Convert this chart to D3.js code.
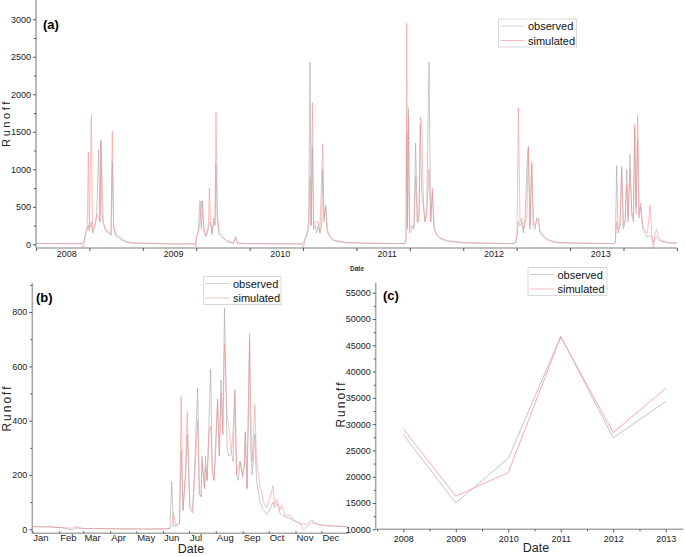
<!DOCTYPE html>
<html>
<head>
<meta charset="utf-8">
<script src="https://cdn.jsdelivr.net/npm/d3@7"></script>
<style>
  body { margin: 0; background: #fff; }
  svg { font-family: "Liberation Sans", Arial, sans-serif; }
</style>
</head>
<body>
<svg width="685" height="557"></svg>
<script>
// (a) daily runoff 2008-2013, time as decimal year
var aTime = [2007.713, 2007.85, 2008.0, 2008.140, 2008.156, 2008.181, 2008.193, 2008.203, 2008.212, 2008.231,
  2008.243, 2008.259, 2008.281, 2008.299, 2008.312, 2008.321, 2008.331, 2008.343, 2008.359, 2008.374,
  2008.399, 2008.415, 2008.427, 2008.440, 2008.461, 2008.483, 2008.514, 2008.561, 2008.624, 2008.780,
  2008.999, 2009.202, 2009.208, 2009.217, 2009.233, 2009.248, 2009.261, 2009.273, 2009.286, 2009.304,
  2009.326, 2009.336, 2009.348, 2009.361, 2009.376, 2009.389, 2009.398, 2009.411, 2009.429, 2009.451,
  2009.498, 2009.561, 2009.583, 2009.598, 2009.685, 2010.184, 2010.200, 2010.216, 2010.231, 2010.247,
  2010.266, 2010.278, 2010.289, 2010.300, 2010.312, 2010.328, 2010.340, 2010.355, 2010.371, 2010.387,
  2010.397, 2010.409, 2010.425, 2010.440, 2010.465, 2010.496, 2010.559, 2010.621, 2010.871, 2011.168,
  2011.177, 2011.183, 2011.191, 2011.199, 2011.211, 2011.230, 2011.252, 2011.267, 2011.283, 2011.299,
  2011.311, 2011.324, 2011.339, 2011.355, 2011.371, 2011.392, 2011.408, 2011.424, 2011.439, 2011.464,
  2011.495, 2011.558, 2011.713, 2011.807, 2012.182, 2012.204, 2012.216, 2012.229, 2012.244, 2012.260,
  2012.276, 2012.294, 2012.307, 2012.322, 2012.338, 2012.354, 2012.369, 2012.385, 2012.400, 2012.416,
  2012.432, 2012.463, 2012.510, 2012.588, 2012.744, 2013.118, 2013.137, 2013.149, 2013.162, 2013.181,
  2013.196, 2013.212, 2013.228, 2013.243, 2013.256, 2013.274, 2013.290, 2013.306, 2013.318, 2013.331,
  2013.346, 2013.359, 2013.374, 2013.393, 2013.415, 2013.437, 2013.462, 2013.477, 2013.493, 2013.508,
  2013.524, 2013.540, 2013.571, 2013.633, 2013.711];
var aObserved = [12, 10, 8, 10, 20, 150, 200, 250, 180, 300,
  150, 200, 350, 1260, 300, 1390, 400, 280, 220, 170,
  150, 120, 1100, 200, 110, 100, 60, 30, 15, 10,
  5, 5, 10, 100, 200, 580, 200, 580, 150, 100,
  200, 300, 280, 130, 350, 250, 1050, 300, 130, 100,
  40, 15, 100, 20, 10, 5, 5, 10, 80, 130,
  300, 2430, 250, 1300, 200, 250, 150, 250, 150, 250,
  1000, 300, 500, 200, 100, 50, 30, 20, 10, 10,
  100, 1500, 250, 1810, 200, 250, 200, 1350, 300, 400,
  1600, 700, 500, 300, 450, 2430, 300, 700, 200, 120,
  80, 40, 20, 15, 10, 30, 100, 300, 250, 300,
  150, 400, 1000, 1300, 200, 1060, 250, 200, 350, 300,
  150, 100, 50, 20, 15, 10, 30, 1050, 150, 250,
  1040, 200, 300, 1000, 300, 1200, 400, 300, 1550, 500,
  1400, 350, 500, 200, 150, 100, 120, 100, 30, 80,
  100, 60, 40, 20, 15];
var aSimulated = [12, 12, 10, 10, -50, 180, 250, 1230, 200, 1720,
  180, 230, 400, 350, 300, 1380, 880, 300, 200, 190,
  160, 130, 1510, 250, 130, 110, 70, 30, 20, 15,
  5, 10, -30, 120, 150, 300, 580, 400, 200, 120,
  250, 750, 280, 150, 300, 280, 1760, 400, 150, 110,
  50, 15, 100, 10, 10, 5, 5, -50, 60, 100,
  200, 900, 250, 1890, 250, 300, 300, 300, 150, 900,
  1340, 350, 520, 150, 100, 60, 40, 25, 15, 10,
  80, 2950, 200, 1700, 150, 200, 250, 900, 300, 300,
  1700, 1650, 600, 300, 400, 1000, 300, 750, 250, 130,
  90, 50, 25, 20, 10, 20, 120, 1820, 300, 350,
  200, 300, 350, 1300, 250, 1100, 300, 250, 300, 350,
  180, 110, 60, 30, 20, 10, 20, 300, 200, 250,
  1000, 250, 300, 800, 350, 1000, 450, 350, 1600, 400,
  1720, 400, 550, 250, 180, 150, 520, 150, -60, 150,
  200, 100, 50, 20, 15];
var aYears = [2008, 2009, 2010, 2011, 2012, 2013];

// (b) runoff through the year, day of year
var bDay = [1, 21, 35, 47, 50, 60, 98, 130, 156, 160, 162, 164, 167, 171, 173, 175, 178, 180, 183, 186,
  188, 192, 194, 196, 197, 200, 201, 203, 205, 207, 209, 211, 213, 215, 217, 219, 221, 223, 226, 228,
  231, 233, 235, 237, 239, 241, 244, 246, 247, 249, 252, 253, 255, 256, 258, 260, 264, 268, 272, 275,
  279, 281, 284, 287, 289, 293, 299, 304, 310, 314, 318, 324, 327, 337, 349, 365];
var bObserved = [10, 8, 6, -3, 5, 3, 2, 1, 2, 3, 176, 12, 15, 25, 290, 70, 200, 350, 80, 70,
  200, 520, 130, 120, 270, 150, 270, 180, 390, 590, 210, 180, 300, 480, 270, 550, 350, 815, 300, 270,
  280, 250, 515, 200, 180, 250, 190, 240, 360, 150, 700, 300, 200, 250, 350, 180, 100, 70, 55, 70,
  100, 80, 95, 60, 55, 45, 40, 30, 20, 20, 18, 35, 22, 15, 12, 10];
var bSimulated = [10, 10, 6, 4, 10, 3, 2, 1, 2, 3, 10, 60, 12, 20, 490, 70, 200, 435, 80, 60,
  150, 400, 130, 120, 250, 150, 230, 180, 350, 380, 210, 180, 340, 470, 270, 500, 350, 680, 420, 380,
  280, 370, 500, 200, 230, 250, 200, 240, 350, 150, 720, 470, 250, 320, 460, 250, 160, 100, 80, 110,
  160, 90, 110, 70, 90, 50, 50, 30, 25, -2, 10, 25, 22, 15, 12, 10];
var bMonths = ["Jan", "Feb", "Mar", "Apr", "May", "Jun", "Jul", "Aug", "Sep", "Oct", "Nov", "Dec"];
var bMonthStart = [1, 32, 60, 91, 121, 152, 182, 213, 244, 274, 305, 335];

// (c) annual runoff
var cYears = [2008, 2009, 2010, 2011, 2012, 2013];
var cObserved = [28000, 15000, 23500, 46700, 27400, 34300];
var cSimulated = [29100, 16300, 20800, 46600, 28400, 36800];

var obsColor = "#a4a4a4", simColor = "#f39393";
var svg = d3.select("svg");
var fmt = d3.format("d");

function styleAxis(g, size){
  g.select(".domain").remove();
  g.selectAll("line").attr("stroke", "#555");
  g.selectAll("text").attr("fill", "#222").style("font-size", size || "9px");
}

function frame(x0, x1, y0, y1){
  svg.append("line").attr("x1", x0).attr("x2", x0).attr("y1", y0).attr("y2", y1)
     .attr("stroke", "#a8a8a8").attr("stroke-width", 1.6);
  svg.append("line").attr("x1", x0).attr("x2", x1).attr("y1", y1).attr("y2", y1)
     .attr("stroke", "#a8a8a8").attr("stroke-width", 1.6);
}

function yLabel(x, y, size, spacing){
  svg.append("text").attr("transform", "translate(" + x + "," + y + ") rotate(-90)")
     .attr("text-anchor", "middle").style("font-size", size).style("letter-spacing", spacing)
     .attr("fill", "#222").text("Runoff");
}

function legend(x, y, w){
  var g = svg.append("g").attr("transform", "translate(" + x + "," + y + ")");
  g.append("rect").attr("width", w).attr("height", 28).attr("fill", "#fff")
   .attr("stroke", "#d0d0d0").attr("stroke-width", 0.8);
  [["observed", "#d2d2d2"], ["simulated", "#f8bcbc"]].forEach(function(d, i){
    g.append("line").attr("x1", 2).attr("x2", 26).attr("y1", 7 + i * 14.5).attr("y2", 7 + i * 14.5)
     .attr("stroke", d[1]).attr("stroke-width", 1);
    g.append("text").attr("x", 29.5).attr("y", 11 + i * 14.5).style("font-size", "11px")
     .attr("fill", "#111").text(d[0]);
  });
}

function series(xs, ys, x, y, color, w){
  var line = d3.line().x(function(d, i){ return x(xs[i]); }).y(function(d){ return y(d); });
  svg.append("path").datum(ys).attr("d", line).attr("fill", "none")
     .attr("stroke", color).attr("stroke-width", w).attr("stroke-linejoin", "round");
}

// ---------- panel (a)
var ax = d3.scaleLinear().domain([2007.713, 2013.714]).range([36, 677]);
var ay = d3.scaleLinear().domain([-49, 3257]).range([248, 0]);

series(aTime, aObserved, ax, ay, obsColor, 0.6);
series(aTime, aSimulated, ax, ay, simColor, 0.6);
frame(36, 677, 0, 248);

var aHalf = d3.range(0, 13).map(function(k){ return 2007.713 + k * 0.5; });
styleAxis(svg.append("g").attr("transform", "translate(0,248)")
  .call(d3.axisBottom(ax).tickValues(aHalf).tickSize(3).tickFormat("")));
svg.selectAll(".alab").data(aYears).enter().append("text")
  .attr("x", function(d){ return ax(d); }).attr("y", 257)
  .attr("text-anchor", "middle").attr("fill", "#222").style("font-size", "9px").text(function(d){ return d; });
styleAxis(svg.append("g").attr("transform", "translate(36,0)")
  .call(d3.axisLeft(ay).tickValues(d3.range(0, 3001, 500)).tickSize(3).tickPadding(2).tickFormat(fmt)));
styleAxis(svg.append("g").attr("transform", "translate(36,0)")
  .call(d3.axisLeft(ay).tickValues(d3.range(250, 3001, 500)).tickSize(2).tickFormat("")));
yLabel(10, 123, "11px", "2.6px");
svg.append("text").attr("x", 43).attr("y", 29).style("font-size", "13px").style("font-weight", "bold").text("(a)");
svg.append("text").attr("x", 350).attr("y", 271).style("font-size", "6.5px").style("font-weight", "bold")
   .attr("fill", "#333").text("Date");
legend(498.5, 19, 78);

// ---------- panel (b)
var bx = d3.scaleLinear().domain([1, 366]).range([32.3, 348.3]);
var by = d3.scaleLinear().domain([-14.7, 907]).range([533.3, 283]);

series(bDay, bObserved, bx, by, obsColor, 0.6);
series(bDay, bSimulated, bx, by, simColor, 0.6);
frame(32.3, 348.3, 283, 533.3);

styleAxis(svg.append("g").attr("transform", "translate(0,533.3)")
  .call(d3.axisBottom(bx).tickValues(bMonthStart).tickSize(-2).tickFormat("")));
svg.selectAll(".blab").data(bMonths).enter().append("text")
  .attr("x", function(d, i){ return bx(bMonthStart[i]) + 1; }).attr("y", 541)
  .attr("fill", "#222").style("font-size", "9.5px").text(function(d){ return d; });
styleAxis(svg.append("g").attr("transform", "translate(32.3,0)")
  .call(d3.axisLeft(by).tickValues(d3.range(0, 801, 200)).tickSize(3).tickPadding(2).tickFormat(fmt)));
styleAxis(svg.append("g").attr("transform", "translate(32.3,0)")
  .call(d3.axisLeft(by).tickValues(d3.range(100, 901, 200)).tickSize(2).tickFormat("")));
yLabel(11, 408, "12px", "2px");
svg.append("text").attr("x", 36).attr("y", 302).style("font-size", "13px").style("font-weight", "bold").text("(b)");
svg.append("text").attr("x", 191).attr("y", 553).attr("text-anchor", "middle")
   .style("font-size", "12.5px").attr("fill", "#222").text("Date");
legend(203.5, 276.5, 77.5);

// ---------- panel (c)
var cx = d3.scaleLinear().domain([2007.474, 2013.335]).range([375.7, 683.3]);
var cy = d3.scaleLinear().domain([10000, 56900]).range([529.3, 282.7]);

series(cYears, cObserved, cx, cy, "#bcbcbc", 0.9);
series(cYears, cSimulated, cx, cy, "#f5a4a4", 0.9);
frame(375.7, 683.3, 282.7, 529.3);

var cHalf = [2007.5, 2008.5, 2009.5, 2010.5, 2011.5, 2012.5];
styleAxis(svg.append("g").attr("transform", "translate(0,529.3)")
  .call(d3.axisBottom(cx).tickValues(cYears).tickSize(3).tickPadding(3).tickFormat(fmt)));
styleAxis(svg.append("g").attr("transform", "translate(0,529.3)")
  .call(d3.axisBottom(cx).tickValues(cHalf).tickSize(2).tickFormat("")));
styleAxis(svg.append("g").attr("transform", "translate(375.7,0)")
  .call(d3.axisLeft(cy).tickValues(d3.range(10000, 55001, 5000)).tickSize(3).tickPadding(2).tickFormat(fmt)));
styleAxis(svg.append("g").attr("transform", "translate(375.7,0)")
  .call(d3.axisLeft(cy).tickValues(d3.range(12500, 55001, 5000)).tickSize(2).tickFormat("")));
yLabel(345, 404, "12px", "2px");
svg.append("text").attr("x", 383).attr("y", 300).style("font-size", "13px").style("font-weight", "bold").text("(c)");
svg.append("text").attr("x", 536).attr("y", 552).attr("text-anchor", "middle")
   .style("font-size", "12.5px").attr("fill", "#222").text("Date");
legend(528, 267.5, 79);
</script>
</body>
</html>
